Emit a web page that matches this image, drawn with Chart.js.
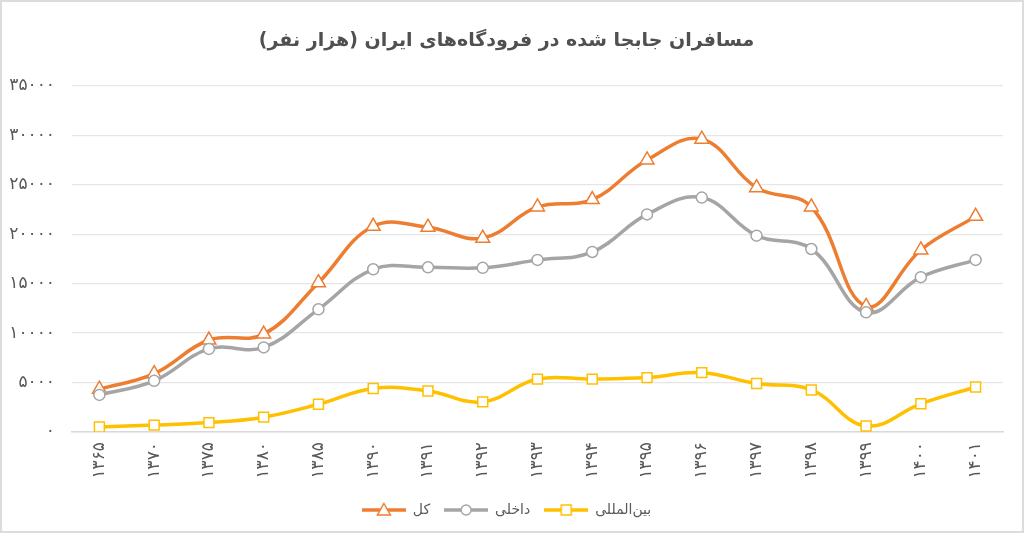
<!DOCTYPE html>
<html lang="fa">
<head>
<meta charset="utf-8">
<title>مسافران جابجا شده</title>
<script src="https://cdn.jsdelivr.net/npm/chart.js@4.4.1/dist/chart.umd.min.js"></script>
<style>
  html, body { margin: 0; padding: 0; background: #fff; }
  #wrap { width: 1024px; height: 533px; box-sizing: border-box; border: 2px solid #dcdcdc; }
  #chart { display: block; }
</style>
</head>
<body>
<div id="wrap"><canvas id="chart" width="1020" height="529"></canvas></div>
<script>
// --- داده‌ها ---
const years = ['۱۳۶۵', '۱۳۷۰', '۱۳۷۵', '۱۳۸۰', '۱۳۸۵', '۱۳۹۰', '۱۳۹۱', '۱۳۹۲', '۱۳۹۳',
               '۱۳۹۴', '۱۳۹۵', '۱۳۹۶', '۱۳۹۷', '۱۳۹۸', '۱۳۹۹', '۱۴۰۰', '۱۴۰۱'];
const totalValues    = [4330, 5900, 9300, 9900, 15100, 20800, 20700, 19600, 22750, 23500, 27500, 29600, 24700, 22750, 12700, 18400, 21800];
const domesticValues = [3750, 5170, 8400, 8550, 12400, 16450, 16650, 16600, 17400, 18200, 22000, 23700, 19850, 18500, 12100, 15650, 17400];
const intlValues     = [500, 700, 950, 1500, 2800, 4400, 4150, 3050, 5350, 5350, 5500, 6000, 4900, 4250, 600, 2850, 4550];
const yTicks = [0, 5000, 10000, 15000, 20000, 25000, 30000, 35000];

const seriesNames = ['کل', 'داخلی', 'بین‌المللی'];
const colors = ['#ED7D31', '#A5A5A5', '#FFC000'];
const shapes = ['triangle', 'circle', 'rect'];
const radii = [8, 5.5, 7];

const textColor = '#595959';
const faDigits = '۰۱۲۳۴۵۶۷۸۹';
function toFa(n) {
    return String(n).replace(/\d/g, d => faDigits[d]);
}

// آیکون راهنما: خط + نشانگر
function makeLegendIcon(color, shape) {
    const c = document.createElement('canvas');
    c.width = 44; c.height = 16;
    const ctx = c.getContext('2d');
    ctx.strokeStyle = color;
    ctx.lineWidth = 3.5;
    ctx.beginPath();
    ctx.moveTo(0, 8); ctx.lineTo(44, 8);
    ctx.stroke();
    ctx.fillStyle = '#fff';
    ctx.lineWidth = 1.5;
    ctx.beginPath();
    if (shape === 'triangle') {
        ctx.moveTo(22, 1.5); ctx.lineTo(28.5, 13); ctx.lineTo(15.5, 13); ctx.closePath();
    } else if (shape === 'circle') {
        ctx.arc(22, 8, 5, 0, Math.PI * 2);
    } else {
        ctx.rect(17, 3, 10, 10);
    }
    ctx.fill();
    ctx.stroke();
    return c;
}

const datasetValues = [totalValues, domesticValues, intlValues];
const datasets = datasetValues.map((vals, i) => ({
    label: seriesNames[i],
    data: vals,
    borderColor: colors[i],
    backgroundColor: '#fff',
    borderWidth: 3.5,
    tension: 0.4,
    pointStyle: shapes[i],
    pointRadius: radii[i],
    pointBorderWidth: 1.5,
    pointBackgroundColor: '#fff',
    pointBorderColor: colors[i],
    order: 3 - i
}));

const chart = new Chart(document.getElementById('chart'), {
    type: 'line',
    data: { labels: years, datasets: datasets },
    options: {
        responsive: false,
        animation: false,
        layout: { padding: { left: 8, right: 19, top: 0, bottom: 4 } },
        plugins: {
            title: {
                display: true,
                text: 'مسافران جابجا شده در فرودگاه‌های ایران (هزار نفر)',
                color: '#505050',
                font: { family: 'DejaVu Sans', size: 19, weight: 'bold' },
                padding: { top: 28, bottom: 33 }
            },
            legend: {
                position: 'bottom',
                labels: {
                    usePointStyle: true,
                    pointStyleWidth: 44,
                    color: textColor,
                    font: { family: 'DejaVu Sans', size: 14 },
                    padding: 14,
                    generateLabels: (ch) => ch.data.datasets.map((ds, i) => ({
                        text: ds.label,
                        fillStyle: colors[i],
                        strokeStyle: colors[i],
                        fontColor: textColor,
                        pointStyle: makeLegendIcon(colors[i], shapes[i]),
                        datasetIndex: i,
                        hidden: false
                    }))
                }
            },
            tooltip: { enabled: false }
        },
        scales: {
            x: {
                offset: true,
                grid: { display: false, drawTicks: false },
                border: { color: '#d9d9d9', width: 1.5 },
                ticks: {
                    color: textColor,
                    font: { family: 'DejaVu Sans', size: 17 },
                    minRotation: 90,
                    maxRotation: 90,
                    padding: 10
                },
                afterFit: (scale) => { scale.height = 57; }
            },
            y: {
                min: 0,
                max: 35000,
                afterBuildTicks: (scale) => { scale.ticks = yTicks.map(v => ({ value: v })); },
                afterFit: (scale) => { scale.width = 62; },
                grid: { color: '#e6e6e6', lineWidth: 1.2, drawTicks: false },
                border: { display: false },
                ticks: {
                    color: textColor,
                    font: { family: 'DejaVu Sans', size: 17 },
                    padding: 17,
                    callback: (v) => toFa(v)
                }
            }
        }
    }
});
</script>
</body>
</html>
